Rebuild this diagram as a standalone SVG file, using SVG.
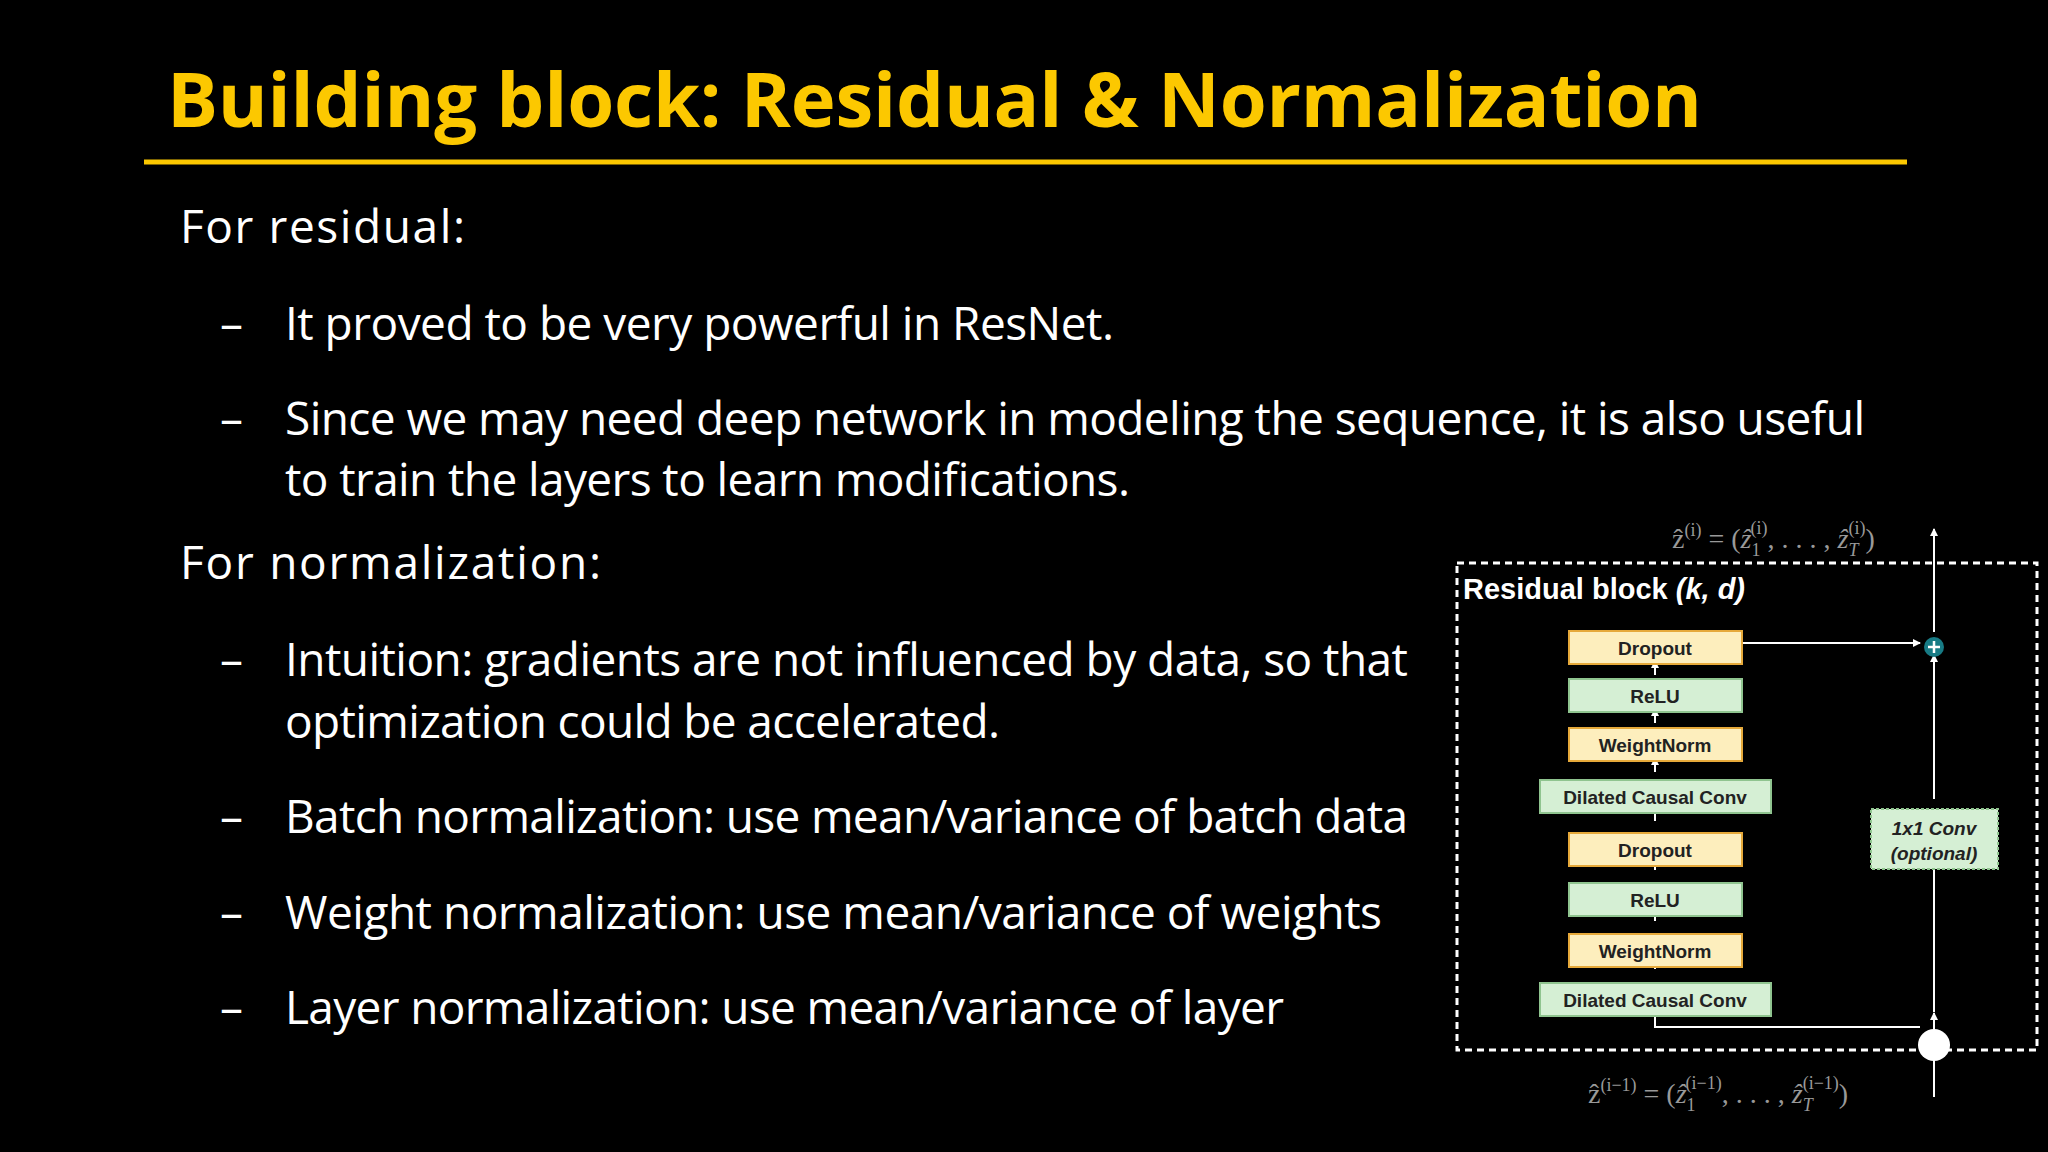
<svg xmlns="http://www.w3.org/2000/svg" width="2048" height="1152" viewBox="0 0 2048 1152">
<style>
.b{font-family:"Open Sans","Noto Sans",sans-serif;font-size:46px;fill:#fff}
.y{fill:#fece2f;stroke:#e6a93a;stroke-width:2}
.g{fill:#d5efd4;stroke:#8fc48f;stroke-width:2}
.n{font-family:"Liberation Sans",Arial,sans-serif;font-size:19px;font-weight:bold;fill:#222;text-anchor:middle}
.c{stroke:#fff;stroke-width:2;fill:none}
.m{font-family:"Liberation Serif",serif;fill:#999;font-size:28px}
</style>
<defs><marker id="a" markerWidth="8" markerHeight="8" refX="7" refY="4" orient="auto" markerUnits="userSpaceOnUse" viewBox="0 0 8 8"><path d="M0,0L8,4L0,8z" fill="#fff"/></marker></defs>
<rect width="2048" height="1152" fill="#000"/>
<text x="167" y="127" font-family="Open Sans,sans-serif" font-weight="bold" font-size="76" fill="#fcc800" textLength="1535">Building block: Residual &amp; Normalization</text>
<line x1="144" y1="162" x2="1907" y2="162" stroke="#fcc800" stroke-width="5"/>
<g class="b">
<text x="180" y="243" textLength="285">For residual:</text>
<text x="220" y="340">–</text><text x="285" y="340" textLength="829">It proved to be very powerful in ResNet.</text>
<text x="220" y="435">–</text><text x="285" y="435" textLength="1580">Since we may need deep network in modeling the sequence, it is also useful</text>
<text x="285" y="496" textLength="845">to train the layers to learn modifications.</text>
<text x="180" y="579" textLength="421">For normalization:</text>
<text x="220" y="676">–</text><text x="285" y="676" textLength="1123">Intuition: gradients are not influenced by data, so that</text>
<text x="285" y="738" textLength="715">optimization could be accelerated.</text>
<text x="220" y="833">–</text><text x="285" y="833" textLength="1123">Batch normalization: use mean/variance of batch data</text>
<text x="220" y="929">–</text><text x="285" y="929" textLength="1097">Weight normalization: use mean/variance of weights</text>
<text x="220" y="1024">–</text><text x="285" y="1024" textLength="999">Layer normalization: use mean/variance of layer</text>
</g>
<rect x="1457" y="563" width="580" height="487" fill="none" stroke="#fff" stroke-width="3" stroke-dasharray="7,5"/>
<text x="1463" y="599" font-family="Liberation Sans,Arial,sans-serif" font-weight="bold" font-size="29" fill="#fff">Residual block <tspan font-style="italic">(k, d)</tspan></text>
<g id="connectors">
<line class="c" x1="1742" y1="643" x2="1920" y2="643" marker-end="url(#a)"/>
<line class="c" x1="1655" y1="675" x2="1655" y2="661" marker-end="url(#a)"/>
<line class="c" x1="1655" y1="723" x2="1655" y2="709" marker-end="url(#a)"/>
<line class="c" x1="1655" y1="772" x2="1655" y2="758" marker-end="url(#a)"/>
<line class="c" x1="1655" y1="821" x2="1655" y2="806" marker-end="url(#a)"/>
<line class="c" x1="1655" y1="870" x2="1655" y2="855" marker-end="url(#a)"/>
<line class="c" x1="1655" y1="921" x2="1655" y2="904" marker-end="url(#a)"/>
<line class="c" x1="1655" y1="969" x2="1655" y2="956" marker-end="url(#a)"/>
<polyline class="c" points="1920,1027 1655,1027 1655,1003" marker-end="url(#a)"/>
<line class="c" x1="1934" y1="1097" x2="1934" y2="1013" marker-end="url(#a)"/>
<line class="c" x1="1934" y1="1012" x2="1934" y2="860" marker-end="url(#a)"/>
<line class="c" x1="1934" y1="799" x2="1934" y2="655" marker-end="url(#a)"/>
<line class="c" x1="1934" y1="632" x2="1934" y2="529" marker-end="url(#a)"/>
</g>
<g id="dropout1"><rect class="y" x="1569" y="631" width="173" height="33" style="fill:#fdeebd"/><text class="n" x="1655" y="655">Dropout</text></g>
<g id="relu1"><rect class="g" x="1569" y="679" width="173" height="33"/><text class="n" x="1655" y="703">ReLU</text></g>
<g id="wn1"><rect class="y" x="1569" y="728" width="173" height="33" style="fill:#fdeebd"/><text class="n" x="1655" y="752">WeightNorm</text></g>
<g id="dcc1"><rect class="g" x="1540" y="780" width="231" height="33"/><text class="n" x="1655" y="804">Dilated Causal Conv</text></g>
<g id="dropout2"><rect class="y" x="1569" y="833" width="173" height="33" style="fill:#fdeebd"/><text class="n" x="1655" y="857">Dropout</text></g>
<g id="relu2"><rect class="g" x="1569" y="883" width="173" height="33"/><text class="n" x="1655" y="907">ReLU</text></g>
<g id="wn2"><rect class="y" x="1569" y="934" width="173" height="33" style="fill:#fdeebd"/><text class="n" x="1655" y="958">WeightNorm</text></g>
<g id="dcc2"><rect class="g" x="1540" y="983" width="231" height="33"/><text class="n" x="1655" y="1007">Dilated Causal Conv</text></g>
<g id="conv1x1"><rect x="1871" y="809" width="127" height="60" fill="#d5efd4" stroke="#8fc48f" stroke-width="2" stroke-dasharray="3,2"/><text class="n" x="1934" y="835" font-style="italic" font-size="18">1x1 Conv</text><text class="n" x="1934" y="860" font-style="italic" font-size="18">(optional)</text></g>
<g id="plus"><circle cx="1934" cy="647" r="10" fill="#177b85"/><path d="M1928,647h12M1934,641v12" stroke="#fff" stroke-width="2.5"/></g>
<g id="split"><circle cx="1934" cy="1045" r="16" fill="#fff"/></g>
<text class="m" x="1672" y="548">ẑ<tspan font-size="18" dy="-12">(i)</tspan><tspan dy="12"> = (</tspan><tspan font-style="italic">ẑ</tspan><tspan font-size="18" dy="8">1</tspan><tspan font-size="18" dx="-10" dy="-22">(i)</tspan><tspan dy="14">, . . . , </tspan><tspan font-style="italic">ẑ</tspan><tspan font-size="18" font-style="italic" dy="8">T</tspan><tspan font-size="18" dx="-10" dy="-22">(i)</tspan><tspan dy="14">)</tspan></text>
<text class="m" x="1588" y="1103">ẑ<tspan font-size="18" dy="-12">(i−1)</tspan><tspan dy="12"> = (</tspan><tspan font-style="italic">ẑ</tspan><tspan font-size="18" dy="8">1</tspan><tspan font-size="18" dx="-10" dy="-22">(i−1)</tspan><tspan dy="14">, . . . , </tspan><tspan font-style="italic">ẑ</tspan><tspan font-size="18" font-style="italic" dy="8">T</tspan><tspan font-size="18" dx="-10" dy="-22">(i−1)</tspan><tspan dy="14">)</tspan></text>
</svg>
